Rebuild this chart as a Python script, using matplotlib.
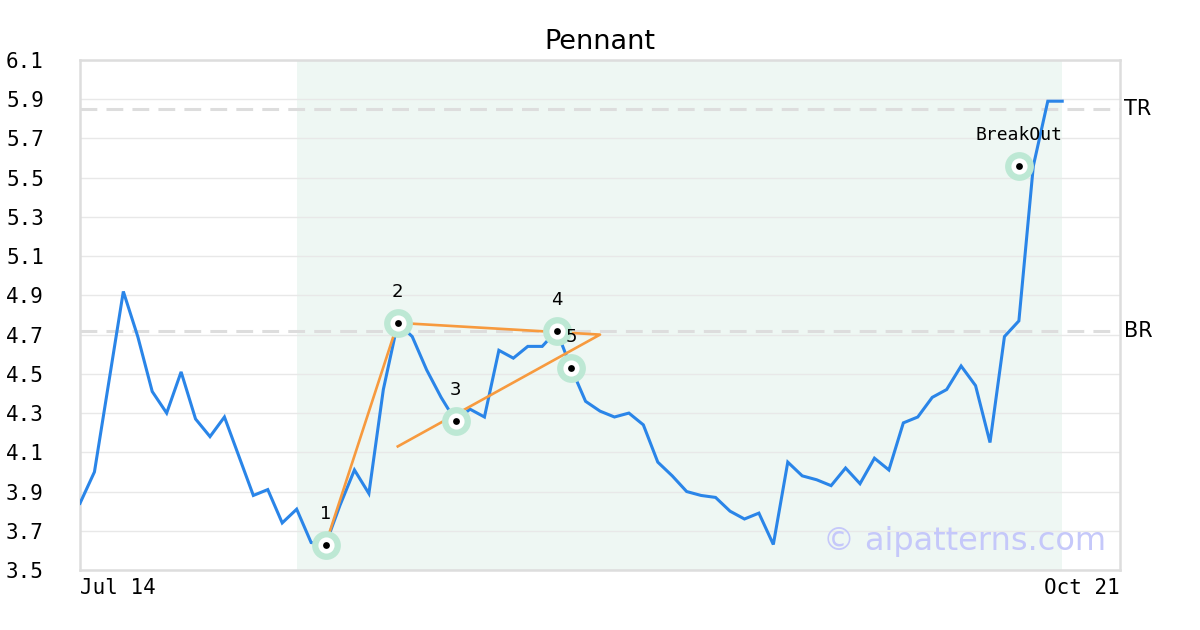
import numpy as np
import matplotlib
matplotlib.use('Agg')
import matplotlib.pyplot as plt

# closing prices, one per trading day from Jul 14
prices = [3.84, 4.00, 4.46, 4.92, 4.69, 4.41, 4.30, 4.51, 4.27, 4.18,
          4.28, 4.08, 3.88, 3.91, 3.74, 3.81, 3.64, 3.63, 3.83, 4.01,
          3.89, 4.42, 4.76, 4.69, 4.52, 4.38, 4.26, 4.32, 4.28, 4.62,
          4.58, 4.64, 4.64, 4.72, 4.53, 4.36, 4.31, 4.28, 4.30, 4.24,
          4.05, 3.98, 3.90, 3.88, 3.87, 3.80, 3.76, 3.79, 3.63, 4.05,
          3.98, 3.96, 3.93, 4.02, 3.94, 4.07, 4.01, 4.25, 4.28, 4.38,
          4.42, 4.54, 4.44, 4.15, 4.69, 4.77, 5.56, 5.89, 5.89]
x_labels = ['Jul 14', 'Oct 21']

# pattern pivots
pivot_idx = [17, 22, 26, 33, 34]
pivot_val = [3.63, 4.76, 4.26, 4.72, 4.53]
pivot_names = ['1', '2', '3', '4', '5']

# pennant outline: 1 -> 2 -> apex -> lower trendline start
outline_x = [17, 22, 36, 22]
outline_y = [3.63, 4.76, 4.70, 4.13]

breakout_idx = 65
breakout_val = 5.56

tr_level = 5.85
br_level = 4.72
zone_start, zone_end = 15, 68

yticks = [3.5, 3.7, 3.9, 4.1, 4.3, 4.5, 4.7, 4.9, 5.1, 5.3, 5.5, 5.7, 5.9, 6.1]

mono = 'DejaVu Sans Mono'
x = np.arange(len(prices))

fig = plt.figure(figsize=(12, 6.3), dpi=100)
ax = fig.add_axes([80 / 1200, 60 / 630, 1040 / 1200, 510 / 630])

ax.axvspan(zone_start, zone_end, color='#eef7f3', zorder=0, lw=0)
for yv in yticks:
    ax.axhline(yv, color='#e8e8e8', lw=1, zorder=1)
for lvl in (tr_level, br_level):
    ax.axhline(lvl, color='#dddddd', lw=2.2, dashes=(5.5, 3), zorder=1)

ax.plot(x, prices, color='#2a85e8', lw=2.2, zorder=3, solid_joinstyle='miter')
ax.plot(outline_x, outline_y, color='#f79a3e', lw=1.9, zorder=4)

mx = pivot_idx + [breakout_idx]
my = pivot_val + [breakout_val]
ax.scatter(mx, my, s=430, color='#bde8d4', zorder=5, lw=0)
ax.scatter(mx, my, s=135, color='white', zorder=6, lw=0)
ax.scatter(mx, my, s=24, color='black', zorder=7, lw=0)

for i, v, name in zip(pivot_idx, pivot_val, pivot_names):
    ax.annotate(name, (i, v), xytext=(0, 22), textcoords='offset points',
                ha='center', va='center', fontsize=13, zorder=8)
ax.annotate('BreakOut', (breakout_idx, breakout_val), xytext=(0, 22),
            textcoords='offset points', ha='center', va='center',
            fontsize=13, family=mono, zorder=8)

ax.set_xlim(0, 72)
ax.set_ylim(3.5, 6.1)
ax.set_yticks(yticks)
ax.set_yticklabels([f'{v:.1f}' for v in yticks], family=mono, fontsize=15)
ax.tick_params(axis='y', length=0, pad=26)
ax.set_xticks([0, 72])
ax.set_xticklabels(x_labels, family=mono, fontsize=15)
ax.tick_params(axis='x', length=0, pad=6)
ax.get_xticklabels()[0].set_ha('left')
ax.get_xticklabels()[1].set_ha('right')

for sp in ax.spines.values():
    sp.set_color('#dddddd')
    sp.set_linewidth(1.8)

ax.text(1.004, ax.transAxes.inverted().transform(ax.transData.transform((0, tr_level)))[1],
        'TR', transform=ax.transAxes, fontsize=15, va='center', ha='left')
ax.text(1.004, ax.transAxes.inverted().transform(ax.transData.transform((0, br_level)))[1],
        'BR', transform=ax.transAxes, fontsize=15, va='center', ha='left')

ax.text(0.9865, 0.055, '© aipatterns.com', transform=ax.transAxes,
        fontsize=23, color='#c5c8fa', ha='right', va='center', zorder=2)

ax.set_title('Pennant', fontsize=19.5, pad=8)

fig.savefig('out.png', dpi=100)
